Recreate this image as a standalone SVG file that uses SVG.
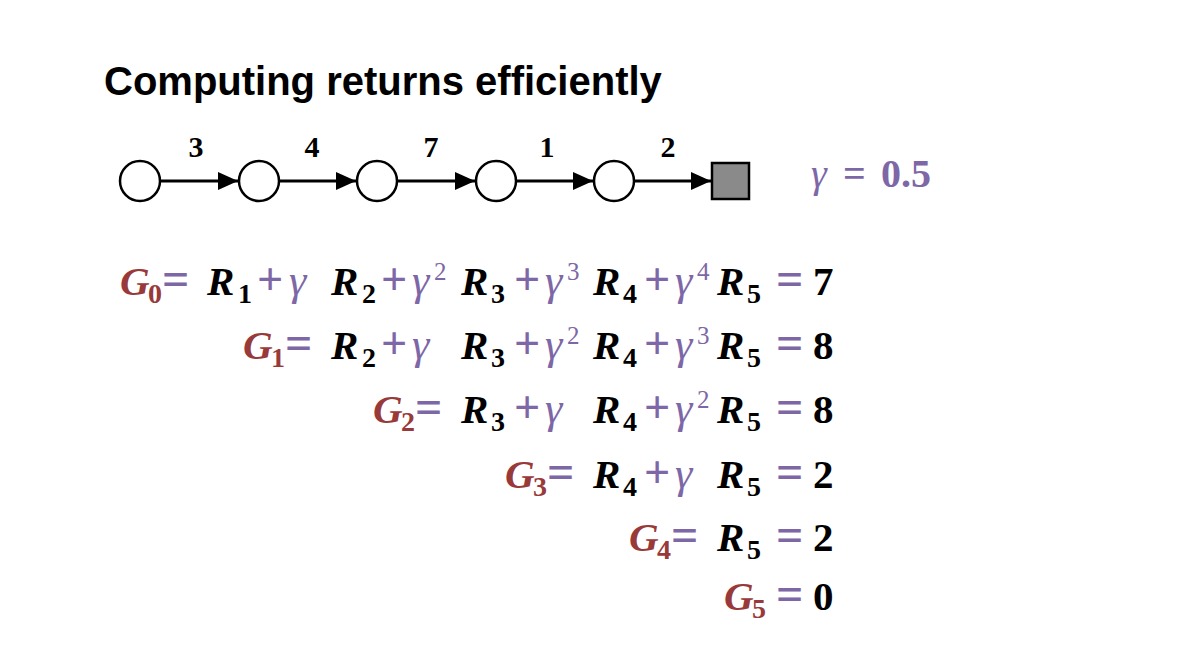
<svg xmlns="http://www.w3.org/2000/svg" width="1187" height="660" viewBox="0 0 1187 660">
<defs>
<style>
.title{font-family:"Liberation Sans",Arial,sans-serif;font-weight:bold;font-size:40px;fill:#000}
.lbl{font-family:"Liberation Serif","Times New Roman",serif;font-weight:bold;font-size:30px;fill:#000;text-anchor:middle}
.node{fill:#fff;stroke:#000;stroke-width:2.5}
.term{fill:#8a8a8a;stroke:#000;stroke-width:2.5}
.edge{stroke:#000;stroke-width:3;fill:none}
.m{font-family:"Liberation Serif","Times New Roman",serif;font-size:41px}
.G{font-weight:bold;font-style:italic;fill:#983a3a}
.R{font-weight:bold;font-style:italic;fill:#000}
.p{fill:#7d67a6;font-weight:bold;font-size:46px}
.e{fill:#7d67a6;font-weight:bold;font-size:48px}
.gm{font-style:italic;fill:#7d67a6;font-size:44px}
.v{font-weight:bold;fill:#000}
.sub{font-size:28px;font-style:normal}
.sup{font-size:25px;font-style:normal}
.gam{font-family:"Liberation Serif","Times New Roman",serif;font-size:40px;fill:#7d67a6}
</style>
<marker id="ah" markerUnits="userSpaceOnUse" markerWidth="20" markerHeight="18" refX="20" refY="9" orient="auto">
<path d="M0,0 L20,9 L0,18 Z" fill="#000"/>
</marker>
</defs>
<rect width="1187" height="660" fill="#fff"/>
<text class="title" x="104" y="95">Computing returns efficiently</text>

<g id="connectors">
<line class="edge" x1="160" y1="181" x2="238" y2="181" marker-end="url(#ah)"/>
<line class="edge" x1="279" y1="181" x2="356" y2="181" marker-end="url(#ah)"/>
<line class="edge" x1="397" y1="181" x2="475" y2="181" marker-end="url(#ah)"/>
<line class="edge" x1="516" y1="181" x2="593" y2="181" marker-end="url(#ah)"/>
<line class="edge" x1="634" y1="181" x2="711" y2="181" marker-end="url(#ah)"/>
<text class="lbl" x="196" y="157">3</text>
<text class="lbl" x="312" y="157">4</text>
<text class="lbl" x="431" y="157">7</text>
<text class="lbl" x="547" y="157">1</text>
<text class="lbl" x="668" y="157">2</text>
</g>
<g id="s0"><circle class="node" cx="140" cy="181" r="20"/></g>
<g id="s1"><circle class="node" cx="259" cy="181" r="20"/></g>
<g id="s2"><circle class="node" cx="377" cy="181" r="20"/></g>
<g id="s3"><circle class="node" cx="496" cy="181" r="20"/></g>
<g id="s4"><circle class="node" cx="614" cy="181" r="20"/></g>
<g id="terminal"><rect class="term" x="712" y="163" width="37" height="36"/></g>

<g id="gamma">
<text class="gam" x="811" y="187" font-style="italic" font-size="43">γ</text>
<text class="gam" x="843" y="187" font-weight="bold" font-size="46">=</text>
<text class="gam" x="881" y="187" font-weight="bold">0.5</text>
</g>

<g id="row0" class="m">
<text class="G" x="120" y="295">G</text><text class="G sub" x="148" y="303">0</text>
<text class="e" x="162" y="295">=</text>
<text class="R" x="207" y="295">R</text><text class="R sub" x="238" y="303">1</text>
<text class="p" x="257" y="295">+</text><text class="gm" x="289" y="295">γ</text>
<text class="R" x="331" y="295">R</text><text class="R sub" x="362" y="303">2</text>
<text class="p" x="381" y="295">+</text><text class="gm" x="412" y="295">γ</text><text class="gm sup" x="434" y="280">2</text>
<text class="R" x="461" y="295">R</text><text class="R sub" x="491" y="303">3</text>
<text class="p" x="514" y="295">+</text><text class="gm" x="545" y="295">γ</text><text class="gm sup" x="567" y="280">3</text>
<text class="R" x="593" y="295">R</text><text class="R sub" x="623" y="303">4</text>
<text class="p" x="644" y="295">+</text><text class="gm" x="675" y="295">γ</text><text class="gm sup" x="697" y="280">4</text>
<text class="R" x="717" y="295">R</text><text class="R sub" x="747" y="303">5</text>
<text class="e" x="776" y="295">=</text><text class="v" x="813" y="295">7</text>
</g>

<g id="row1" class="m">
<text class="G" x="243" y="359">G</text><text class="G sub" x="271" y="367">1</text>
<text class="e" x="285" y="359">=</text>
<text class="R" x="331" y="359">R</text><text class="R sub" x="362" y="367">2</text>
<text class="p" x="381" y="359">+</text><text class="gm" x="412" y="359">γ</text>
<text class="R" x="461" y="359">R</text><text class="R sub" x="491" y="367">3</text>
<text class="p" x="514" y="359">+</text><text class="gm" x="545" y="359">γ</text><text class="gm sup" x="567" y="344">2</text>
<text class="R" x="593" y="359">R</text><text class="R sub" x="623" y="367">4</text>
<text class="p" x="644" y="359">+</text><text class="gm" x="675" y="359">γ</text><text class="gm sup" x="697" y="344">3</text>
<text class="R" x="717" y="359">R</text><text class="R sub" x="747" y="367">5</text>
<text class="e" x="776" y="359">=</text><text class="v" x="813" y="359">8</text>
</g>

<g id="row2" class="m">
<text class="G" x="373" y="423">G</text><text class="G sub" x="401" y="431">2</text>
<text class="e" x="415" y="423">=</text>
<text class="R" x="461" y="423">R</text><text class="R sub" x="491" y="431">3</text>
<text class="p" x="514" y="423">+</text><text class="gm" x="545" y="423">γ</text>
<text class="R" x="593" y="423">R</text><text class="R sub" x="623" y="431">4</text>
<text class="p" x="644" y="423">+</text><text class="gm" x="675" y="423">γ</text><text class="gm sup" x="697" y="408">2</text>
<text class="R" x="717" y="423">R</text><text class="R sub" x="747" y="431">5</text>
<text class="e" x="776" y="423">=</text><text class="v" x="813" y="423">8</text>
</g>

<g id="row3" class="m">
<text class="G" x="505" y="488">G</text><text class="G sub" x="533" y="496">3</text>
<text class="e" x="547" y="488">=</text>
<text class="R" x="593" y="488">R</text><text class="R sub" x="623" y="496">4</text>
<text class="p" x="644" y="488">+</text><text class="gm" x="675" y="488">γ</text>
<text class="R" x="717" y="488">R</text><text class="R sub" x="747" y="496">5</text>
<text class="e" x="776" y="488">=</text><text class="v" x="813" y="488">2</text>
</g>

<g id="row4" class="m">
<text class="G" x="629" y="551">G</text><text class="G sub" x="657" y="559">4</text>
<text class="e" x="671" y="551">=</text>
<text class="R" x="717" y="551">R</text><text class="R sub" x="747" y="559">5</text>
<text class="e" x="776" y="551">=</text><text class="v" x="813" y="551">2</text>
</g>

<g id="row5" class="m">
<text class="G" x="724" y="610">G</text><text class="G sub" x="752" y="618">5</text>
<text class="e" x="776" y="610">=</text><text class="v" x="813" y="610">0</text>
</g>
</svg>
